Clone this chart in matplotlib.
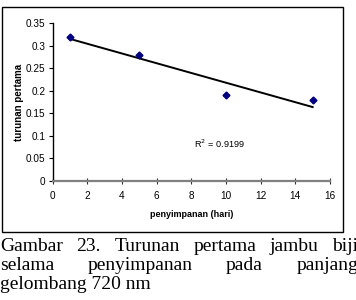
import matplotlib.pyplot as plt
import matplotlib.patches as patches
import numpy as np

hari = np.array([1, 5, 10, 15])
turunan = np.array([0.32, 0.28, 0.19, 0.18])
r2_label = "R$^2$ = 0.9199"

caption_lines = [
    "Gambar 23. Turunan pertama jambu biji",
    "selama penyimpanan pada panjang",
    "gelombang 720 nm",
]

W, H = 356, 300
fig = plt.figure(figsize=(W / 100, H / 100), dpi=100)
ax = fig.add_axes([52.5 / W, (H - 181) / H, 277.5 / W, (181 - 23.3) / H])

# linear trendline like excel
slope, intercept = np.polyfit(hari, turunan, 1)
xs = np.array([hari.min(), hari.max()])
ax.plot(xs, slope * xs + intercept, color="black", lw=1.4)
ax.plot(hari, turunan, "D", color="#000080", ms=3.5, zorder=3)

ax.set_xlim(0, 16)
ax.set_ylim(0, 0.35)
ax.set_xticks(np.arange(0, 17, 2))
ax.set_yticks(np.arange(0, 0.351, 0.05))
ax.set_yticklabels(["0", "0.05", "0.1", "0.15", "0.2", "0.25", "0.3", "0.35"])

for s in ["top", "right"]:
    ax.spines[s].set_visible(False)
ax.spines["left"].set_color("black")
ax.spines["left"].set_linewidth(1)
ax.spines["bottom"].set_color("#808080")
ax.spines["bottom"].set_linewidth(1.6)

ax.tick_params(axis="y", direction="out", length=3, width=0.8, labelsize=7.2, pad=2)
ax.tick_params(axis="x", direction="inout", length=4, width=0.8, color="#333333",
               labelsize=7.2, pad=5)
for lab in ax.get_xticklabels() + ax.get_yticklabels():
    lab.set_family("Liberation Sans")

ax.set_xlabel("penyimpanan (hari)", fontsize=6.5, fontweight="bold",
              family="Liberation Sans", labelpad=7)
ax.set_ylabel("turunan pertama", fontsize=7, fontweight="bold",
              family="Liberation Sans")
ax.yaxis.set_label_coords(-0.103, 0.5)

ax.text(8.16, 0.082, r2_label, fontsize=6.6, family="Liberation Sans", va="center")

# chart area border
fig.patches.append(patches.Rectangle((2 / W, (H - 232) / H), 341 / W, 225 / H,
                                     transform=fig.transFigure, fill=False,
                                     edgecolor="black", lw=1))

# justified caption, right edge runs a little past the image
renderer = fig.canvas.get_renderer()
right_edge = 358
baselines = [251, 270, 289]
for i, (line, base) in enumerate(zip(caption_lines, baselines)):
    words = line.split()
    if i == len(caption_lines) - 1:
        fig.text(0, (H - base) / H, line, fontsize=14,
                 family="Liberation Serif", va="baseline", ha="left")
        continue
    widths = []
    for w in words:
        t = fig.text(0, 0, w, fontsize=14, family="Liberation Serif")
        widths.append(t.get_window_extent(renderer).width)
        t.remove()
    gap = (right_edge - sum(widths)) / (len(words) - 1)
    x = 0
    for w, wd in zip(words, widths):
        fig.text(x / W, (H - base) / H, w, fontsize=14,
                 family="Liberation Serif", va="baseline", ha="left")
        x += wd + gap

fig.savefig("out.png", dpi=100)
